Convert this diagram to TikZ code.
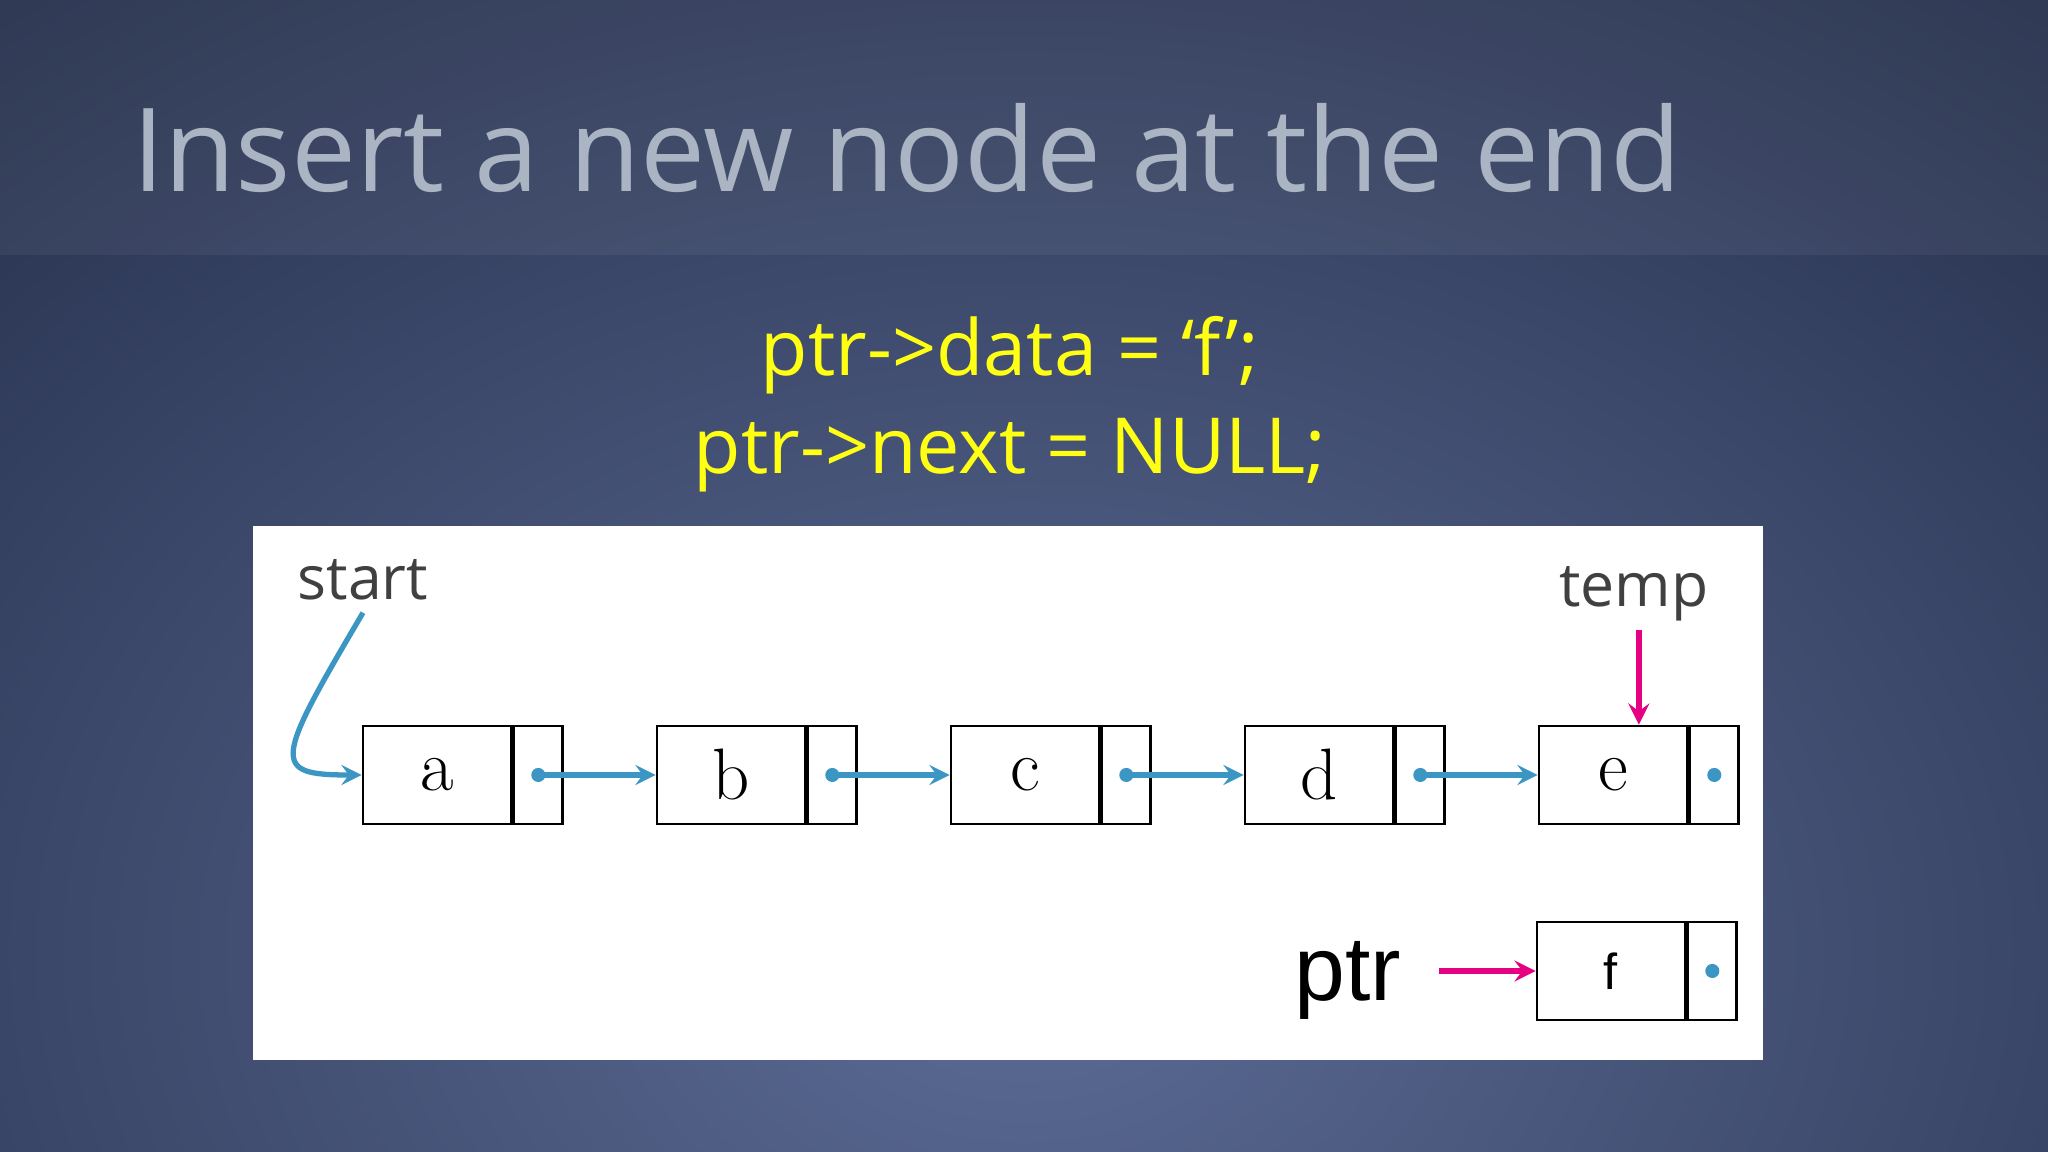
\documentclass[tikz,border=0pt]{standalone}
\usepackage{fontspec}
\setmainfont{Latin Modern Roman}
\newfontfamily\slidefont{Open Sans}
\newfontfamily\arialfont{Liberation Sans}
\usetikzlibrary{arrows,positioning,calc}
\definecolor{slidebg}{RGB}{38,48,76}
\definecolor{slidelight}{RGB}{92,108,150}
\definecolor{titlegray}{RGB}{170,180,195}
\definecolor{codeyellow}{RGB}{255,255,20}
\definecolor{linkblue}{RGB}{60,150,195}
\definecolor{ptrpink}{RGB}{230,0,130}
\tikzset{
  datapart/.style = {draw, thick, minimum width=1.48cm, minimum height=0.98cm, inner sep=0pt, font=\huge},
  ptrpart/.style  = {draw, thick, minimum width=0.49cm, minimum height=0.98cm, inner sep=0pt},
  link/.style     = {->, >=stealth, line width=1.5pt, color=linkblue},
  pinklink/.style = {->, >=stealth, line width=1.6pt, color=ptrpink},
  dot/.style      = {circle, fill=linkblue, inner sep=0pt, minimum size=4pt},
  label/.style    = {font=\slidefont\LARGE, text=black!75}
}
\begin{document}
\begin{tikzpicture}
\useasboundingbox (0,0) rectangle (20.48,11.52);
\shade[inner color=slidelight, outer color=slidebg] (-6,-10) rectangle (26.48,14);
\fill[white, opacity=0.05] (0,8.97) rectangle (20.48,11.52);
\node[anchor=base west, font=\slidefont\fontsize{33}{40}\selectfont, text=titlegray] (title) at (1.2,9.6) {Insert a new node at the end};
\node[font=\slidefont\fontsize{22}{28}\selectfont, text=codeyellow] (code1) at (10.1,7.97) {ptr->data = ‘f’;};
\node[font=\slidefont\fontsize{22}{28}\selectfont, text=codeyellow] (code2) at (10.1,6.97) {ptr->next = NULL;};
\fill[white] (2.53,0.92) rectangle (17.63,6.26);
% the list a..e
\foreach \n [count=\i from 0] in {a,b,c,d,e} {
  \node[datapart] (\n) at ({4.37+2.94*\i},3.77) {\n};
  \node[ptrpart, right=0pt of \n] (\n p) {};
}
\node[datapart] (f) at (16.11,1.81) {\arialfont\Large f};
\node[ptrpart, right=0pt of f] (fp) {};
\node[dot] at (ep.center) {};
\node[dot] at (fp.center) {};
\foreach \n/\m in {a/b,b/c,c/d,d/e} {
  \node[dot] (\n dot) at (\n p.center) {};
  \draw[link] (\n dot.center) -- (\m.west);
}
% pointers
\node[label] (start) at (3.63,5.72) {start};
\draw[link] (start.south) .. controls (2.75,3.9) and (2.7,3.77) .. (a.west);
\node[label] (temp) at (16.34,5.58) {temp};
\coordinate (etop) at ($(e.north west)!0.5!(ep.north east)$);
\draw[pinklink] ($(etop)+(0,0.95)$) -- (etop);
\node[font=\arialfont\fontsize{26}{30}\selectfont] (ptr) at (13.48,1.72) {ptr};
\coordinate (ptrtail) at (14.39,1.81);
\draw[pinklink] (ptrtail) -- (f.west);
\end{tikzpicture}
\end{document}
